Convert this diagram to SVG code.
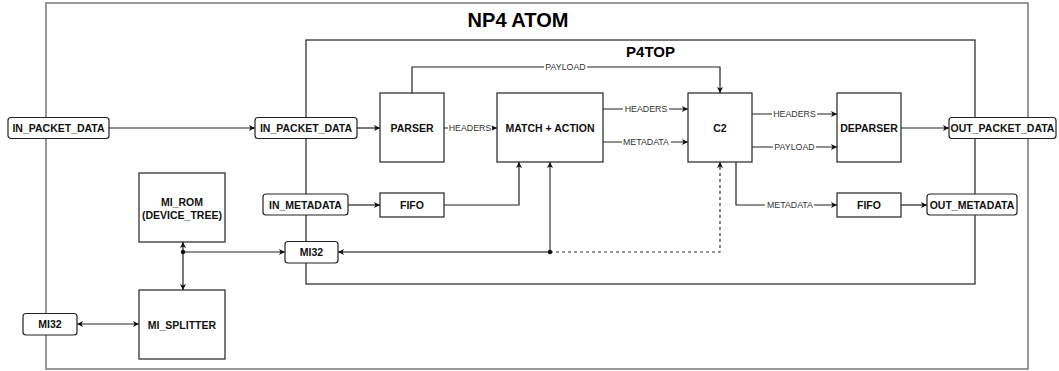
<svg xmlns="http://www.w3.org/2000/svg" width="1059" height="371" viewBox="0 0 1059 371">
<defs>
<style>
.box{fill:#fff;stroke:#222;stroke-width:1.2}
.rbox{fill:#fff;stroke:#222;stroke-width:1.2}
.t{font-family:"Liberation Sans",Arial,sans-serif;font-weight:bold;font-size:10.5px;fill:#111;text-anchor:middle;dominant-baseline:central}
.el{font-family:"Liberation Sans",Arial,sans-serif;font-size:8.8px;fill:#333;text-anchor:middle;dominant-baseline:central}
.lbg{fill:#fff}
.c{fill:none;stroke:#222;stroke-width:1.2}
.g{fill:none;stroke:#555;stroke-width:1.4}
.d{fill:none;stroke:#333;stroke-width:1.2;stroke-dasharray:3 3}
</style>
<marker id="a" viewBox="0 0 10 10" refX="10" refY="5" markerWidth="6" markerHeight="6" markerUnits="userSpaceOnUse" orient="auto-start-reverse">
<path d="M0,0 L10,5 L0,10 L2.5,5 z" fill="#111"/>
</marker>
</defs>
<rect width="1059" height="371" fill="#fff"/>

<g id="np4atom">
<rect x="46" y="3" width="982" height="366" fill="none" stroke="#777" stroke-width="1.5"/>
<text x="518" y="26.5" font-family="Liberation Sans,Arial,sans-serif" font-weight="bold" font-size="20" text-anchor="middle" fill="#000">NP4 ATOM</text>
</g>

<g id="p4top">
<rect x="306" y="40" width="669" height="244" fill="none" stroke="#222" stroke-width="1.2"/>
<text x="650.5" y="57" font-family="Liberation Sans,Arial,sans-serif" font-weight="bold" font-size="15" text-anchor="middle" fill="#000">P4TOP</text>
</g>

<g id="connectors">
<path class="c" d="M109,128 H255" marker-end="url(#a)"/>
<path class="c" d="M357,128 H380" marker-end="url(#a)"/>
<path class="c" d="M444,128 H497" marker-end="url(#a)"/>
<path class="c" d="M412,93 V67 H720 V93" marker-end="url(#a)"/>
<path class="c" d="M603,109 H688" marker-end="url(#a)"/>
<path class="c" d="M603,142 H688" marker-end="url(#a)"/>
<path class="c" d="M752,114 H837" marker-end="url(#a)"/>
<path class="c" d="M752,147 H837" marker-end="url(#a)"/>
<path class="c" d="M901,128 H949" marker-end="url(#a)"/>
<path class="c" d="M348,205 H380" marker-end="url(#a)"/>
<path class="c" d="M444,205 H519 V162" marker-end="url(#a)"/>
<path class="c" d="M736,162 V205 H837" marker-end="url(#a)"/>
<path class="c" d="M901,205 H927" marker-end="url(#a)"/>
<path class="g" d="M550,252 H338" marker-end="url(#a)"/>
<path class="g" d="M550,252 V162" marker-end="url(#a)"/>
<path class="d" d="M550,252 H720 V162" marker-end="url(#a)"/>
<circle cx="550" cy="252" r="2.2" fill="#111"/>
<path class="c" d="M183,252 V242" marker-end="url(#a)"/>
<path class="c" d="M183,252 V290" marker-end="url(#a)"/>
<path class="c" d="M183,252 H285" marker-end="url(#a)"/>
<circle cx="183" cy="252" r="2.2" fill="#111"/>
<path class="c" d="M77,324 H139" marker-start="url(#a)" marker-end="url(#a)"/>

<rect class="lbg" x="448" y="123" width="44" height="10"/>
<text class="el" x="470" y="128">HEADERS</text>
<rect class="lbg" x="544" y="62" width="43" height="10"/>
<text class="el" x="565.5" y="67">PAYLOAD</text>
<rect class="lbg" x="623" y="104" width="46" height="10"/>
<text class="el" x="646" y="109">HEADERS</text>
<rect class="lbg" x="622" y="137" width="49" height="10"/>
<text class="el" x="646" y="142">METADATA</text>
<rect class="lbg" x="772" y="109" width="45" height="10"/>
<text class="el" x="794.5" y="114">HEADERS</text>
<rect class="lbg" x="773" y="142" width="43" height="10"/>
<text class="el" x="794.5" y="147">PAYLOAD</text>
<rect class="lbg" x="765" y="200" width="49" height="10"/>
<text class="el" x="790" y="205">METADATA</text>
</g>

<g id="in_packet_data_ext">
<rect class="rbox" x="8" y="117.5" width="101" height="21" rx="3"/>
<text class="t" x="58.5" y="128">IN_PACKET_DATA</text>
</g>
<g id="in_packet_data">
<rect class="rbox" x="255" y="117.5" width="102" height="21" rx="3"/>
<text class="t" x="306" y="128">IN_PACKET_DATA</text>
</g>
<g id="parser">
<rect class="box" x="380" y="93" width="64" height="69"/>
<text class="t" x="412" y="128">PARSER</text>
</g>
<g id="match_action">
<rect class="box" x="497" y="93" width="106" height="69"/>
<text class="t" x="550" y="128">MATCH + ACTION</text>
</g>
<g id="c2">
<rect class="box" x="688" y="93" width="64" height="69"/>
<text class="t" x="720" y="128">C2</text>
</g>
<g id="deparser">
<rect class="box" x="837" y="93" width="64" height="69"/>
<text class="t" x="869" y="128">DEPARSER</text>
</g>
<g id="out_packet_data">
<rect class="rbox" x="949" y="117.5" width="107" height="21" rx="3"/>
<text class="t" x="1002.5" y="128">OUT_PACKET_DATA</text>
</g>
<g id="in_metadata">
<rect class="rbox" x="263" y="194" width="85" height="21" rx="3"/>
<text class="t" x="305.5" y="204.5">IN_METADATA</text>
</g>
<g id="fifo_in">
<rect class="box" x="380" y="193" width="64" height="24"/>
<text class="t" x="412" y="205">FIFO</text>
</g>
<g id="fifo_out">
<rect class="box" x="837" y="193" width="64" height="24"/>
<text class="t" x="869" y="205">FIFO</text>
</g>
<g id="out_metadata">
<rect class="rbox" x="927" y="194" width="90" height="21" rx="3"/>
<text class="t" x="972" y="204.5">OUT_METADATA</text>
</g>
<g id="mi32_inner">
<rect class="rbox" x="285" y="241.5" width="53" height="21.5" rx="3"/>
<text class="t" x="311.5" y="252">MI32</text>
</g>
<g id="mi_rom">
<rect class="box" x="139" y="173" width="86" height="69"/>
<text class="t" x="182" y="201.5">MI_ROM</text>
<text class="t" x="182" y="214.5">(DEVICE_TREE)</text>
</g>
<g id="mi_splitter">
<rect class="box" x="139" y="290" width="86" height="69"/>
<text class="t" x="182" y="325">MI_SPLITTER</text>
</g>
<g id="mi32_ext">
<rect class="rbox" x="23" y="313.5" width="54" height="21.5" rx="3"/>
<text class="t" x="50" y="324">MI32</text>
</g>
</svg>
